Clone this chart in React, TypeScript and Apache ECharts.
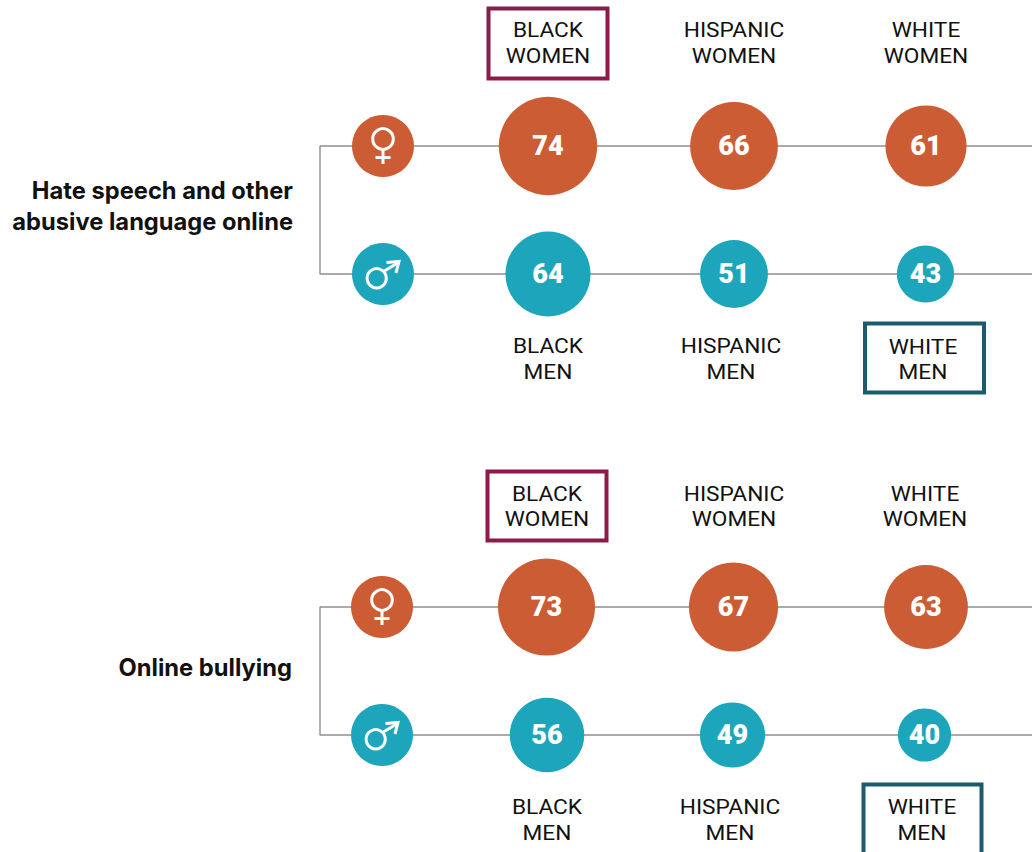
import React, { useEffect, useRef } from "react";
import * as echarts from "echarts";

const W = 1032;
const H = 852;

const panelTitles = ["Hate speech and other\nabusive language online", "Online bullying"];
const groups = ["BLACK", "HISPANIC", "WHITE"];
const womenHate = [74, 66, 61];
const menHate = [64, 51, 43];
const womenBullying = [73, 67, 63];
const menBullying = [56, 49, 40];

const ORANGE = "#cc5c33";
const TEAL = "#1da6bb";
const LINE = "#8e8e8e";
const INK = "#111111";
const PLUM = "#8a1c4b";
const PETROL = "#1a5b6e";

const SCALE = 1.33;

const panels = [
  {
    title: panelTitles[0], women: womenHate, men: menHate,
    yW: 146, yM: 274, bracket: 320, icon: 383,
    xsW: [548, 734, 926], xsM: [548, 734, 925.5],
    titleY: 206, titleRight: 293,
    labelW: 43, labelXW: [548, 734, 926], labelXM: [548, 731, 923],
    labelMY: [359, 359, 359.5],
    boxW: [488.5, 8.5, 119, 70], boxM: [865, 323.5, 119, 69],
  },
  {
    title: panelTitles[1], women: womenBullying, men: menBullying,
    yW: 607, yM: 735, bracket: 320, icon: 382,
    xsW: [546.5, 733.5, 926], xsM: [547, 732.5, 924.5],
    titleY: 667, titleRight: 292,
    labelW: 506.5, labelXW: [547, 734, 925], labelXM: [547, 730, 922],
    labelMY: [820, 820, 820],
    boxW: [487.5, 471.5, 119, 69], boxM: [863.5, 784.5, 118, 72],
  },
];

function genderIcon(kind: "f" | "m", cx: number, cy: number) {
  const style = { stroke: "#fff", lineWidth: 3, fill: "none", lineCap: "butt" };
  if (kind === "f") {
    return [
      { type: "circle", shape: { cx, cy: cy - 7, r: 10.3 }, style },
      { type: "line", shape: { x1: cx, y1: cy + 3, x2: cx, y2: cy + 18 }, style },
      { type: "line", shape: { x1: cx - 7.5, y1: cy + 11.5, x2: cx + 7.5, y2: cy + 11.5 }, style },
    ];
  }
  return [
    { type: "circle", shape: { cx: cx - 6.3, cy: cy + 4.3, r: 9.6 }, style },
    { type: "line", shape: { x1: cx + 0.5, y1: cy - 2.5, x2: cx + 15.5, y2: cy - 11.5 }, style },
    { type: "polyline", shape: { points: [[cx + 3.5, cy - 11.5], [cx + 16, cy - 12.5], [cx + 13, cy - 1]] }, style },
  ];
}

export default function App() {
  const ref = useRef<HTMLDivElement>(null);
  useEffect(() => {
    const chart = echarts.init(ref.current!, undefined, { renderer: "svg" });
    const series: any[] = [];
    const graphic: any[] = [];

    panels.forEach((p) => {
      series.push({
        type: "line", silent: true, symbol: "none", z: 1,
        lineStyle: { color: LINE, width: 1.4 },
        data: [[W, p.yW], [p.bracket, p.yW], [p.bracket, p.yM], [W, p.yM]],
      });
      series.push({
        type: "custom", silent: true, z: 3,
        data: [[p.icon, p.yW, 0], [p.icon, p.yM, 1]],
        renderItem: (_: any, api: any) => {
          const c = api.coord([api.value(0), api.value(1)]);
          const male = api.value(2) === 1;
          return {
            type: "group",
            children: [
              { type: "circle", shape: { cx: c[0], cy: c[1], r: 31 }, style: { fill: male ? TEAL : ORANGE } },
              ...genderIcon(male ? "m" : "f", c[0], c[1]),
            ],
          };
        },
      });
      [
        { vals: p.women, xs: p.xsW, y: p.yW, color: ORANGE },
        { vals: p.men, xs: p.xsM, y: p.yM, color: TEAL },
      ].forEach((row) => {
        series.push({
          type: "scatter", silent: true, z: 3,
          symbolSize: (d: number[]) => d[2] * SCALE,
          itemStyle: { color: row.color, opacity: 1 },
          label: {
            show: true, position: "inside", offset: [0, -0.5],
            formatter: (o: any) => String(o.value[2]),
            color: "#fff", fontFamily: "Roboto", fontWeight: 900, fontSize: 27,
          },
          data: row.vals.map((v, i) => [row.xs[i], row.y, v]),
        });
      });
      graphic.push({
        type: "text", x: p.titleRight, y: p.titleY, z: 10,
        style: {
          text: p.title, align: "right", verticalAlign: "middle",
          fontFamily: "Inter", fontWeight: 700, fontSize: 23.7, lineHeight: 31, fill: INK,
        },
      });
      groups.forEach((g, i) => {
        graphic.push({
          type: "text", x: p.labelXW[i], y: p.labelW, scaleX: 1.08, z: 10,
          style: {
            text: `${g}\nWOMEN`, align: "center", verticalAlign: "middle",
            fontFamily: "Roboto", fontSize: 21, lineHeight: 25.5, fill: INK,
          },
        });
        graphic.push({
          type: "text", x: p.labelXM[i], y: p.labelMY[i], scaleX: 1.08, z: 10,
          style: {
            text: `${g}\nMEN`, align: "center", verticalAlign: "middle",
            fontFamily: "Roboto", fontSize: 21, lineHeight: 25.5, fill: INK,
          },
        });
      });
      const [bx, by, bw, bh] = p.boxW;
      graphic.push({
        type: "rect", z: 9, shape: { x: bx, y: by, width: bw, height: bh },
        style: { fill: "none", stroke: PLUM, lineWidth: 4 },
      });
      const [mx, my, mw, mh] = p.boxM;
      graphic.push({
        type: "rect", z: 9, shape: { x: mx, y: my, width: mw, height: mh },
        style: { fill: "none", stroke: PETROL, lineWidth: 4 },
      });
    });

    chart.setOption({
      animation: false,
      backgroundColor: "#fff",
      grid: { left: 0, right: 0, top: 0, bottom: 0 },
      xAxis: { type: "value", min: 0, max: W, show: false },
      yAxis: { type: "value", min: 0, max: H, inverse: true, show: false },
      series,
      graphic,
    });
    return () => chart.dispose();
  }, []);
  return <div ref={ref} style={{ position: "fixed", left: 0, top: 0, width: W, height: H }} />;
}
